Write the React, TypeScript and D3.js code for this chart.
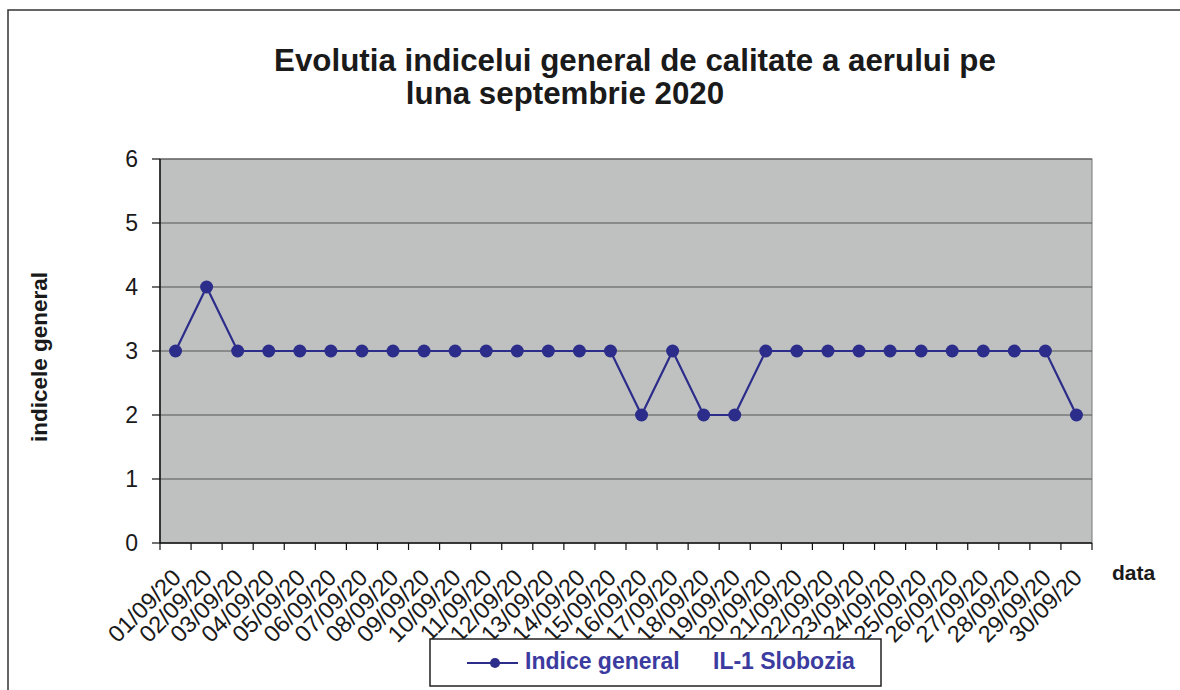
import React from "react";
import * as d3 from "d3";

const dates = [
  "01/09/20", "02/09/20", "03/09/20", "04/09/20", "05/09/20", "06/09/20",
  "07/09/20", "08/09/20", "09/09/20", "10/09/20", "11/09/20", "12/09/20",
  "13/09/20", "14/09/20", "15/09/20", "16/09/20", "17/09/20", "18/09/20",
  "19/09/20", "20/09/20", "21/09/20", "22/09/20", "23/09/20", "24/09/20",
  "25/09/20", "26/09/20", "27/09/20", "28/09/20", "29/09/20", "30/09/20",
];
const indice = [3, 4, 3, 3, 3, 3, 3, 3, 3, 3, 3, 3, 3, 3, 3, 2, 3, 2, 2, 3, 3, 3, 3, 3, 3, 3, 3, 3, 3, 2];
const yTicks = [0, 1, 2, 3, 4, 5, 6];

const font = "'Liberation Sans', Arial, sans-serif";
const lineColor = "#2c2c8a";

export default function App() {
  const left = 160, right = 1092, top = 159, bottom = 543;
  const x = d3.scaleBand<string>().domain(dates).range([left, right]).padding(0);
  const y = d3.scaleLinear().domain([0, 6]).range([bottom, top]);
  const cx = (d: string) => (x(d) as number) + x.bandwidth() / 2;

  const line = d3
    .line<number>()
    .x((_, i) => cx(dates[i]))
    .y((v) => y(v));

  return (
    <svg
      width={1180}
      height={690}
      style={{ position: "absolute", left: 0, top: 0, background: "#fff" }}
      fontFamily={font}
    >
      {/* chart frame */}
      <rect x={8} y={10} width={1190} height={700} fill="none" stroke="#333" strokeWidth={1.5} />

      {/* title */}
      <text x={635} y={71} textAnchor="middle" fontSize={31.3} fontWeight="bold" fill="#1a1a1a">
        Evolutia indicelui general de calitate a aerului pe
      </text>
      <text x={565} y={104} textAnchor="middle" fontSize={31.3} fontWeight="bold" fill="#1a1a1a">
        luna septembrie 2020
      </text>

      {/* plot area */}
      <rect x={left} y={top} width={right - left} height={bottom - top} fill="#bec1c0" stroke="#777" strokeWidth={1} />
      {yTicks.filter((t) => t > 0).map((t) => (
        <line key={t} x1={left} x2={right} y1={y(t)} y2={y(t)} stroke="#555" strokeWidth={1} />
      ))}

      {/* y axis */}
      <line x1={left} x2={left} y1={top} y2={bottom} stroke="#111" strokeWidth={1.5} />
      {yTicks.map((t) => (
        <g key={t}>
          <line x1={left - 8} x2={left} y1={y(t)} y2={y(t)} stroke="#111" strokeWidth={1.2} />
          <text x={138} y={y(t) + 8} textAnchor="end" fontSize={23} fill="#1a1a1a">
            {t}
          </text>
        </g>
      ))}
      <text
        transform={`translate(47,357) rotate(-90)`}
        textAnchor="middle"
        fontSize={22.5}
        fontWeight="bold"
        fill="#1a1a1a"
      >
        indicele general
      </text>

      {/* x axis */}
      <line x1={left} x2={right} y1={bottom} y2={bottom} stroke="#111" strokeWidth={1.5} />
      {dates.map((d) => (
        <line key={d} x1={x(d) as number} x2={x(d) as number} y1={bottom} y2={bottom + 7} stroke="#111" strokeWidth={1.2} />
      ))}
      <line x1={right} x2={right} y1={bottom} y2={bottom + 7} stroke="#111" strokeWidth={1.2} />
      {dates.map((d) => (
        <text
          key={d}
          transform={`translate(${cx(d) + 7},${bottom + 36}) rotate(-45)`}
          textAnchor="end"
          fontSize={23.5}
          fill="#1a1a1a"
        >
          {d}
        </text>
      ))}
      <text x={1112} y={580} fontSize={21} fontWeight="bold" fill="#1a1a1a">
        data
      </text>

      {/* series */}
      <path d={line(indice) as string} fill="none" stroke={lineColor} strokeWidth={2.2} />
      {indice.map((v, i) => (
        <circle key={i} cx={cx(dates[i])} cy={y(v)} r={6.5} fill={lineColor} />
      ))}

      {/* legend */}
      <rect x={430} y={639} width={451} height={47} fill="#fff" stroke="#222" strokeWidth={1.5} />
      <line x1={467} x2={518} y1={663} y2={663} stroke={lineColor} strokeWidth={2.2} />
      <circle cx={495} cy={663} r={5} fill={lineColor} />
      <text x={525} y={669} fontSize={23} fontWeight="bold" fill="#3b3ba0">
        Indice general
      </text>
      <text x={713} y={669} fontSize={23} fontWeight="bold" fill="#3b3ba0">
        IL-1 Slobozia
      </text>
    </svg>
  );
}
